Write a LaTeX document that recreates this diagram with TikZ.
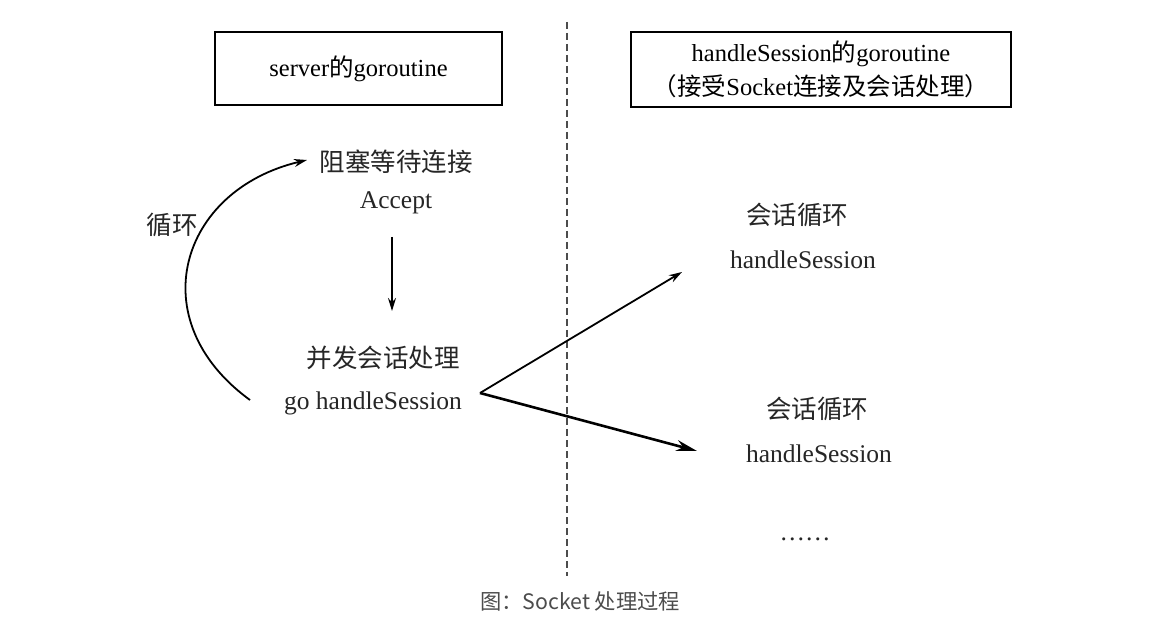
\documentclass[tikz,border=0pt]{standalone}
\usepackage{fontspec}
\setmainfont{Liberation Serif}
\newfontfamily\cjk{Noto Sans CJK SC}
\usetikzlibrary{arrows.meta}
\tikzset{
  lbl/.style={font=\fontsize{25.5}{28}\selectfont, inner sep=0pt, text=black!85},
  hbox/.style={draw, line width=2pt, minimum width=287pt, minimum height=73pt, inner sep=0pt, font=\fontsize{24.5}{34}\selectfont, align=center},
  thin arrow/.style={line width=1.8pt, -{Stealth[length=13pt,width=8pt]}},
  thick arrow/.style={line width=2.6pt, -{Stealth[length=21pt,width=11pt]}},
}
\begin{document}
\begin{tikzpicture}[x=1pt,y=-1pt]
\useasboundingbox (0,0) rectangle (1168,644);
\fill[white] (0,0) rectangle (1168,644);
% boxes
\node[hbox] (b1) at (358.5,68.5) {server{\cjk 的}goroutine};
\node[hbox, minimum width=380pt, minimum height=75pt] (b2) at (821,69.5) {handleSession{\cjk 的}goroutine\\{\cjk （接受}Socket{\cjk 连接及会话处理）}};
% divider
\coordinate (d1) at (567,22);
\coordinate (d2) at (567,576);
\draw[dashed, line width=1.6pt, black!70, dash pattern=on 7pt off 4pt] (d1) -- (d2);
% left column
\node[lbl] (t1) at (396,162) {\cjk 阻塞等待连接};
\node[lbl] (t2) at (396,203) {Accept};
\node[lbl] (t3) at (383,358) {\cjk 并发会话处理};
\node[lbl] (t4) at (373,403) {go handleSession};
\node[lbl] (loop) at (172,225) {\cjk 循环};
% right column
\node[lbl] (r1) at (797,215) {\cjk 会话循环};
\node[lbl] (r2) at (803,260) {handleSession};
\node[lbl] (r3) at (817,409) {\cjk 会话循环};
\node[lbl] (r4) at (819,454) {handleSession};
\node[lbl] (dots) at (805,539) {……};
% caption
\node[inner sep=0pt, font=\cjk\fontsize{21.3}{24}\selectfont, text=black!70] (cap) at (580,601) {图：Socket 处理过程};
% connectors
\coordinate (a1) at (392,237);
\coordinate (a2) at (392,311);
\draw[thin arrow] (a1) -- (a2);
\coordinate (c1) at (250,400);
\coordinate (c2) at (307,160);
\draw[thin arrow] (c1) .. controls (140,320) and (180,190) .. (c2);
\coordinate (f) at (480,393);
\coordinate (e1) at (682,272);
\coordinate (e2) at (697,451);
\draw[thin arrow] (f) -- (e1);
\draw[thick arrow] (f) -- (e2);
\end{tikzpicture}
\end{document}
